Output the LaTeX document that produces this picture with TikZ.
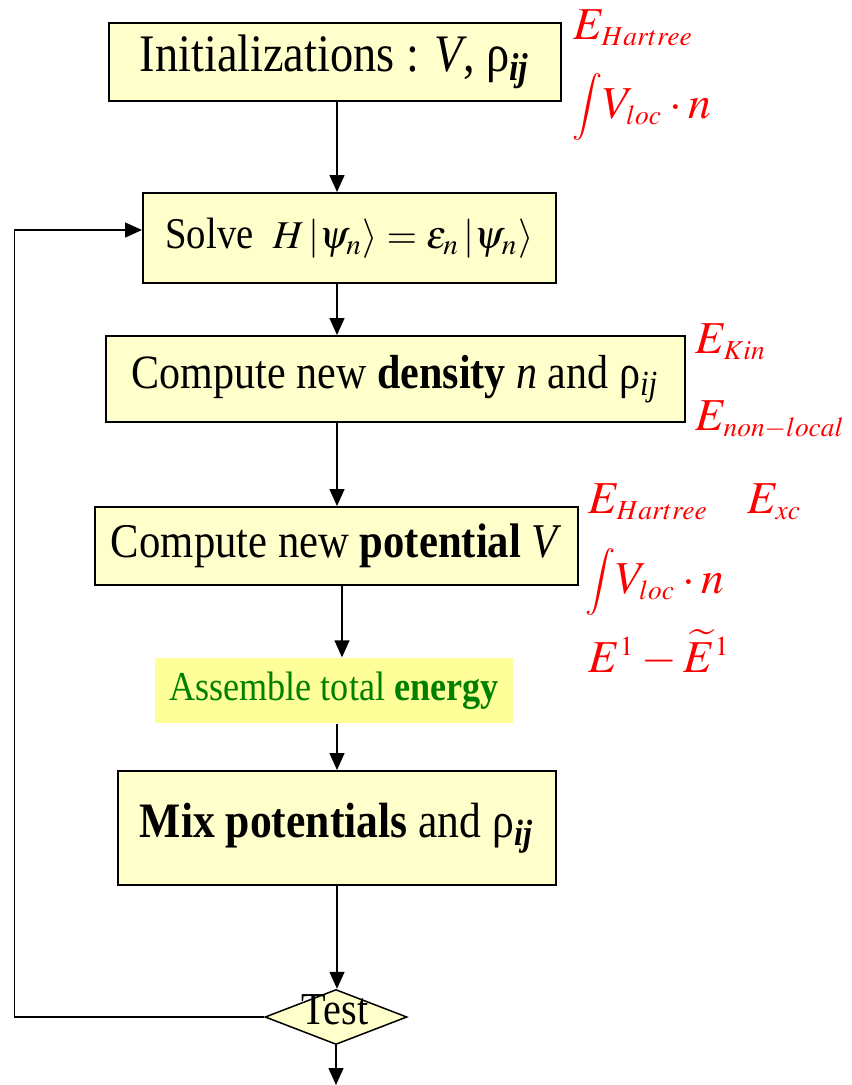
\documentclass[tikz,border=0pt]{standalone}
\usepackage{mathptmx}
\usepackage[no-math]{fontspec}
\setmainfont{Liberation Serif}[FakeStretch=0.88]
\DeclareMathSizes{13}{13}{7.8}{6.5}
\usetikzlibrary{shapes.geometric,arrows.meta}
\definecolor{boxyellow}{HTML}{FFFFCC}
\definecolor{energyyellow}{HTML}{FFFF99}
\definecolor{energygreen}{HTML}{008000}
\newcommand{\bigint}{\vcenter{\hbox{\resizebox*{!}{0.67cm}{$\displaystyle\int$}}}}

\begin{document}
\begin{tikzpicture}[
    stepbox/.style={draw, line width=0.02cm, fill=boxyellow, inner sep=0pt, align=center},
    flow/.style={-{Triangle[length=0.17cm,width=0.15cm]}, line width=0.015cm},
    note/.style={anchor=base west, inner sep=0pt, text=red, font=\fontsize{13}{15}\selectfont}
  ]
  \useasboundingbox (0,0) rectangle (8.52,-10.85);
  \coordinate (axis) at (3.37,0);

  % --- Caixas do ciclo ---
  \node[stepbox, minimum width=4.52cm, minimum height=0.78cm, font=\fontsize{15}{17}\selectfont] (init) at (3.35,-0.62)
    {Initializations : \textit{V}, ρ\textsubscript{\textbf{\textit{ij}}}};
  \node[stepbox, minimum width=4.13cm, minimum height=0.90cm, font=\fontsize{12.5}{14}\selectfont] (solve) at (3.495,-2.38)
    {Solve\ \ {\fontsize{11.2}{14}\selectfont$H\left|\psi_{n}\right\rangle=\varepsilon_{n}\left|\psi_{n}\right\rangle$}};
  \node[stepbox, minimum width=5.79cm, minimum height=0.86cm, font=\fontsize{13.6}{16}\selectfont] (density) at (3.955,-3.79)
    {Compute new \textbf{density} \textit{n} and ρ\textsubscript{\textit{ij}}};
  \node[stepbox, minimum width=4.83cm, minimum height=0.78cm, font=\fontsize{13.8}{16}\selectfont] (potential) at (3.365,-5.46)
    {Compute new \textbf{potential}\ \textit{V}};
  \node[fill=energyyellow, inner sep=0pt, minimum width=3.58cm, minimum height=0.65cm, text=energygreen,
    font=\fontsize{11.7}{14}\selectfont] (energy) at (3.34,-6.905)
    {Assemble total \textbf{energy}};
  \node[stepbox, minimum width=4.38cm, minimum height=1.14cm, font=\fontsize{14.1}{16}\selectfont] (mix) at (3.37,-8.28)
    {\textbf{Mix potentials} and ρ\textsubscript{\textbf{\textit{ij}}}};

  % Losango do teste
  \node[diamond, draw, line width=0.015cm, fill=boxyellow, inner sep=0pt,
    minimum width=1.42cm, minimum height=0.55cm] (test) at (3.36,-10.17) {};
  \node[inner sep=0pt, font=\fontsize{13}{15}\selectfont] (testtext) at (3.35,-10.10) {Test};
  \coordinate (exit) at (3.36,-10.85);

  % Setas verticais
  \draw[flow] (init.south -| axis) -- (solve.north -| axis);
  \draw[flow] (solve.south -| axis) -- (density.north -| axis);
  \draw[flow] (density.south -| axis) -- (potential.north -| axis);
  \draw[flow] ([xshift=0.05cm]potential.south -| axis) -- ([xshift=0.05cm]energy.north -| axis);
  \draw[flow] (energy.south -| axis) -- (mix.north -| axis);
  \draw[flow] (mix.south -| axis) -- (test.north -| axis);
  \draw[flow] (test.south) -- (exit);

  % Retorno do teste
  \draw[flow] (test.west) -- ++(-2.5,0) |- ([yshift=0.08cm]solve.west);

  % --- Termos de energia (vermelho) ---
  \node[note] (hartreeA) at (5.73,-0.39) {$E_{Hartree}$};
  \node[note] (vlocA) at (5.72,-1.18) {$\bigint V_{loc}\cdot n$};
  \node[note] (kin) at (6.95,-3.53) {$E_{Kin}$};
  \node[note] (nonlocal) at (6.95,-4.30) {$E_{non-local}$};
  \node[note] (hartreeB) at (5.88,-5.13) {$E_{Hartree}$};
  \node[note] (xc) at (7.47,-5.13) {$E_{xc}$};
  \node[note] (vlocB) at (5.85,-5.93) {$\bigint V_{loc}\cdot n$};
  \node[note] (diff) at (5.88,-6.72) {$E^{1}-\widetilde{E}^{1}$};
\end{tikzpicture}
\end{document}
